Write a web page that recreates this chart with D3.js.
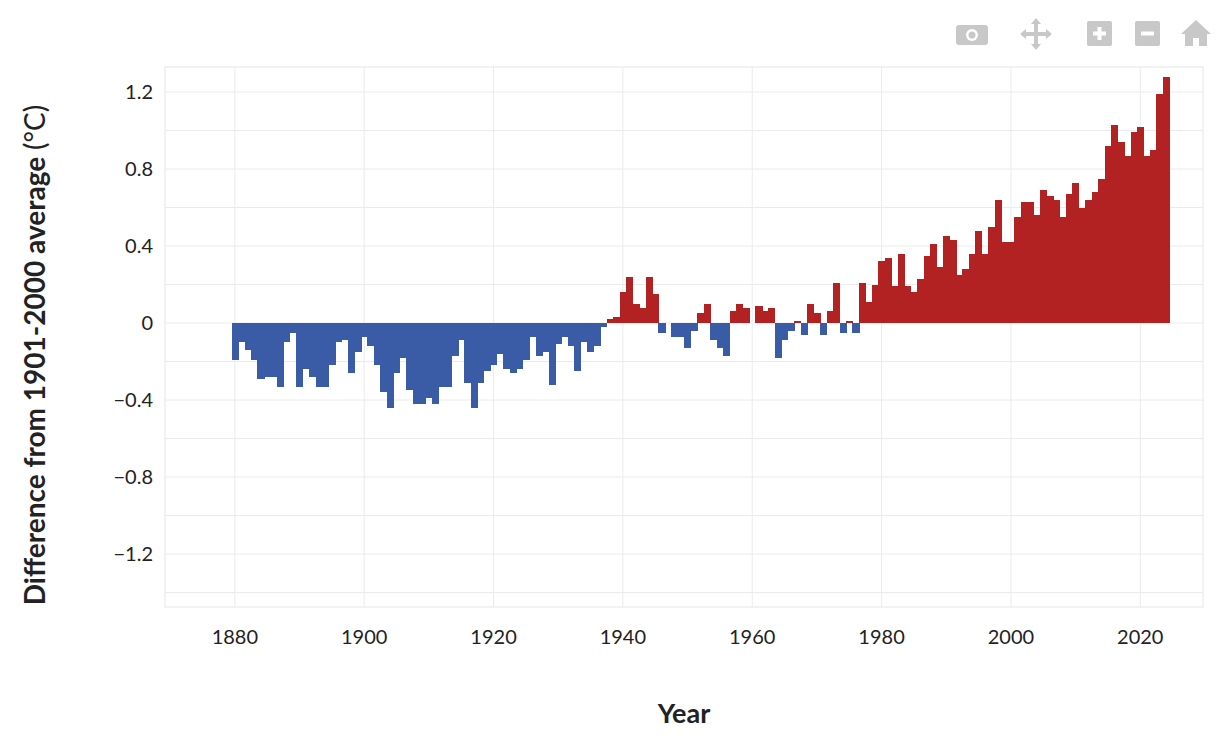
<!DOCTYPE html>
<html><head><meta charset="utf-8">
<script src="https://cdn.jsdelivr.net/npm/d3@7"></script>
<style>body{margin:0;background:#fff;font-family:"Source Sans Pro",Lato,sans-serif;}</style>
</head><body>
<svg width="1230" height="745"></svg>
<script>
const startYear = 1880;
const anomalies = [
  -0.19,-0.10,-0.14,-0.19,-0.29,-0.28,-0.28,-0.33,-0.10,-0.05,
  -0.33,-0.24,-0.28,-0.33,-0.33,-0.22,-0.10,-0.09,-0.26,-0.15,
  -0.07,-0.12,-0.22,-0.36,-0.44,-0.26,-0.18,-0.35,-0.42,-0.42,
  -0.39,-0.42,-0.33,-0.33,-0.17,-0.09,-0.31,-0.44,-0.31,-0.25,
  -0.22,-0.16,-0.24,-0.26,-0.24,-0.19,-0.07,-0.17,-0.15,-0.32,
  -0.11,-0.07,-0.12,-0.25,-0.10,-0.15,-0.12,-0.02,0.02,0.03,
  0.16,0.24,0.10,0.08,0.24,0.15,-0.05,0.00,-0.07,-0.07,
  -0.13,-0.04,0.05,0.10,-0.09,-0.13,-0.17,0.06,0.10,0.08,
  0.00,0.09,0.06,0.08,-0.18,-0.09,-0.04,0.01,-0.06,0.10,
  0.05,-0.06,0.06,0.21,-0.05,0.01,-0.05,0.21,0.11,0.20,
  0.32,0.34,0.19,0.36,0.19,0.16,0.23,0.35,0.41,0.29,
  0.45,0.43,0.25,0.28,0.36,0.48,0.36,0.50,0.64,0.42,
  0.42,0.55,0.63,0.63,0.56,0.69,0.66,0.64,0.55,0.67,
  0.73,0.60,0.64,0.68,0.75,0.92,1.03,0.94,0.87,0.99,
  1.02,0.87,0.90,1.19,1.28
];
const data = anomalies.map((v, i) => ({year: startYear + i, value: v}));
const yTicks = [-1.2, -0.8, -0.4, 0, 0.4, 0.8, 1.2];
const yMinor = [-1.4, -1.0, -0.6, -0.2, 0.2, 0.6, 1.0];
const xTicks = [1880, 1900, 1920, 1940, 1960, 1980, 2000, 2020];

const svg = d3.select('svg');
const pLeft = 165, pRight = 1203, pTop = 67, pBottom = 607;

const x = d3.scaleLinear().domain([1869.2, 2029.7]).range([pLeft, pRight]);
const y = d3.scaleLinear().domain([-1.475, 1.33]).range([pBottom, pTop]);

const grid = svg.append('g').attr('stroke', '#ebebeb').attr('stroke-width', 1);
grid.selectAll('.ym').data(yTicks.concat(yMinor)).join('line')
  .attr('x1', pLeft).attr('x2', pRight).attr('y1', d => y(d)).attr('y2', d => y(d));
grid.selectAll('.xm').data(xTicks).join('line')
  .attr('y1', pTop).attr('y2', pBottom).attr('x1', d => x(d)).attr('x2', d => x(d));
svg.append('rect').attr('x', pLeft).attr('y', pTop).attr('width', pRight - pLeft).attr('height', pBottom - pTop)
  .attr('fill', 'none').attr('stroke', '#e6e6e6');

svg.append('g').attr('shape-rendering', 'crispEdges').selectAll('rect').data(data).join('rect')
  .attr('x', d => x(d.year - 0.5))
  .attr('width', x(1) - x(0) + 0.6)
  .attr('y', d => y(Math.max(0, d.value)))
  .attr('height', d => Math.abs(y(d.value) - y(0)))
  .attr('fill', d => d.value >= 0 ? '#b22222' : '#3a5ba6');

const fmt = d => d === 0 ? '0' : d3.format('.1f')(d).replace('-', '−');
svg.append('g').selectAll('text').data(yTicks).join('text')
  .attr('x', 153).attr('y', d => y(d)).attr('dy', '0.35em')
  .attr('text-anchor', 'end').attr('font-size', 20).attr('fill', '#222')
  .text(fmt);
svg.append('g').selectAll('text').data(xTicks).join('text')
  .attr('x', d => x(d)).attr('y', 644)
  .attr('text-anchor', 'middle').attr('font-size', 20).attr('fill', '#222')
  .text(d => d);

svg.append('text').attr('x', 684).attr('y', 723).attr('text-anchor', 'middle')
  .attr('font-size', 27).attr('font-weight', 'bold').attr('fill', '#222').text('Year');

const yt = svg.append('text').attr('transform', `translate(45,355) rotate(-90)`)
  .attr('text-anchor', 'middle').attr('font-size', 28).attr('fill', '#222');
yt.append('tspan').attr('font-weight', 'bold').text('Difference from 1901-2000 average ');
yt.append('tspan').text('(°C)');

// modebar
const mb = svg.append('g').attr('fill', '#c8c8c8');
mb.append('rect').attr('x', 956).attr('y', 25).attr('width', 32).attr('height', 20).attr('rx', 3);
mb.append('circle').attr('cx', 972).attr('cy', 35).attr('r', 6).attr('fill', '#fff');
mb.append('circle').attr('cx', 972).attr('cy', 35).attr('r', 3.5);
mb.append('path').attr('d', 'M1036,18 l-5,6 h3 v8 h-8 v-3 l-6,5 6,5 v-3 h8 v8 h-3 l5,6 5,-6 h-3 v-8 h8 v3 l6,-5 -6,-5 v3 h-8 v-8 h3 z');
mb.append('rect').attr('x', 1087).attr('y', 21).attr('width', 25).attr('height', 25).attr('rx', 2);
mb.append('path').attr('d', 'M1093,33.5 h13 M1099.5,27 v13').attr('stroke', '#fff').attr('stroke-width', 4);
mb.append('rect').attr('x', 1135).attr('y', 21).attr('width', 25).attr('height', 25).attr('rx', 2);
mb.append('path').attr('d', 'M1141,33.5 h13').attr('stroke', '#fff').attr('stroke-width', 4);
mb.append('path').attr('d', 'M1196,20 l-15,14 h4 v12 h8 v-8 h6 v8 h8 v-12 h4 z');
</script>
</body></html>
